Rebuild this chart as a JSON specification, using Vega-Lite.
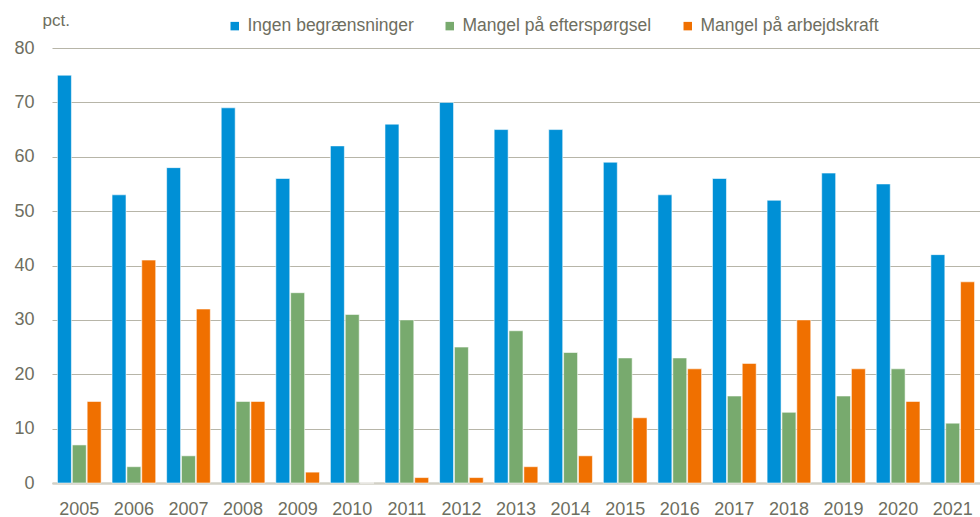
{
  "$schema": "https://vega.github.io/schema/vega-lite/v6.json",
  "width": 928,
  "height": 435,
  "autosize": {"type": "none"},
  "padding": {"left": 52, "top": 48, "right": 0, "bottom": 34},
  "background": "white",
  "config": {
    "view": {"stroke": null},
    "font": "Liberation Sans",
    "axis": {"labelFont": "Liberation Sans", "titleFont": "Liberation Sans"},
    "legend": {"labelFont": "Liberation Sans"}
  },
  "data": {
    "values": [
      {"year": "2005", "serie": "Ingen begrænsninger", "value": 75},
      {"year": "2005", "serie": "Mangel på efterspørgsel", "value": 7},
      {"year": "2005", "serie": "Mangel på arbejdskraft", "value": 15},
      {"year": "2006", "serie": "Ingen begrænsninger", "value": 53},
      {"year": "2006", "serie": "Mangel på efterspørgsel", "value": 3},
      {"year": "2006", "serie": "Mangel på arbejdskraft", "value": 41},
      {"year": "2007", "serie": "Ingen begrænsninger", "value": 58},
      {"year": "2007", "serie": "Mangel på efterspørgsel", "value": 5},
      {"year": "2007", "serie": "Mangel på arbejdskraft", "value": 32},
      {"year": "2008", "serie": "Ingen begrænsninger", "value": 69},
      {"year": "2008", "serie": "Mangel på efterspørgsel", "value": 15},
      {"year": "2008", "serie": "Mangel på arbejdskraft", "value": 15},
      {"year": "2009", "serie": "Ingen begrænsninger", "value": 56},
      {"year": "2009", "serie": "Mangel på efterspørgsel", "value": 35},
      {"year": "2009", "serie": "Mangel på arbejdskraft", "value": 2},
      {"year": "2010", "serie": "Ingen begrænsninger", "value": 62},
      {"year": "2010", "serie": "Mangel på efterspørgsel", "value": 31},
      {"year": "2010", "serie": "Mangel på arbejdskraft", "value": 0},
      {"year": "2011", "serie": "Ingen begrænsninger", "value": 66},
      {"year": "2011", "serie": "Mangel på efterspørgsel", "value": 30},
      {"year": "2011", "serie": "Mangel på arbejdskraft", "value": 1},
      {"year": "2012", "serie": "Ingen begrænsninger", "value": 70},
      {"year": "2012", "serie": "Mangel på efterspørgsel", "value": 25},
      {"year": "2012", "serie": "Mangel på arbejdskraft", "value": 1},
      {"year": "2013", "serie": "Ingen begrænsninger", "value": 65},
      {"year": "2013", "serie": "Mangel på efterspørgsel", "value": 28},
      {"year": "2013", "serie": "Mangel på arbejdskraft", "value": 3},
      {"year": "2014", "serie": "Ingen begrænsninger", "value": 65},
      {"year": "2014", "serie": "Mangel på efterspørgsel", "value": 24},
      {"year": "2014", "serie": "Mangel på arbejdskraft", "value": 5},
      {"year": "2015", "serie": "Ingen begrænsninger", "value": 59},
      {"year": "2015", "serie": "Mangel på efterspørgsel", "value": 23},
      {"year": "2015", "serie": "Mangel på arbejdskraft", "value": 12},
      {"year": "2016", "serie": "Ingen begrænsninger", "value": 53},
      {"year": "2016", "serie": "Mangel på efterspørgsel", "value": 23},
      {"year": "2016", "serie": "Mangel på arbejdskraft", "value": 21},
      {"year": "2017", "serie": "Ingen begrænsninger", "value": 56},
      {"year": "2017", "serie": "Mangel på efterspørgsel", "value": 16},
      {"year": "2017", "serie": "Mangel på arbejdskraft", "value": 22},
      {"year": "2018", "serie": "Ingen begrænsninger", "value": 52},
      {"year": "2018", "serie": "Mangel på efterspørgsel", "value": 13},
      {"year": "2018", "serie": "Mangel på arbejdskraft", "value": 30},
      {"year": "2019", "serie": "Ingen begrænsninger", "value": 57},
      {"year": "2019", "serie": "Mangel på efterspørgsel", "value": 16},
      {"year": "2019", "serie": "Mangel på arbejdskraft", "value": 21},
      {"year": "2020", "serie": "Ingen begrænsninger", "value": 55},
      {"year": "2020", "serie": "Mangel på efterspørgsel", "value": 21},
      {"year": "2020", "serie": "Mangel på arbejdskraft", "value": 15},
      {"year": "2021", "serie": "Ingen begrænsninger", "value": 42},
      {"year": "2021", "serie": "Mangel på efterspørgsel", "value": 11},
      {"year": "2021", "serie": "Mangel på arbejdskraft", "value": 37}
    ]
  },
  "mark": {"type": "bar", "stroke": "white", "strokeWidth": 0.8, "strokeOpacity": 0.7},
  "encoding": {
    "x": {
      "field": "year",
      "type": "nominal",
      "scale": {"paddingInner": 0.2, "paddingOuter": 0.1},
      "axis": {
        "title": null,
        "labelAngle": 0,
        "labelFontSize": 18,
        "labelColor": "#6e6e60",
        "labelPadding": 17,
        "ticks": false,
        "domainColor": "#d2d0c6",
        "domainWidth": 2.5,
        "grid": false
      }
    },
    "xOffset": {
      "field": "serie",
      "type": "nominal",
      "sort": ["Ingen begrænsninger", "Mangel på efterspørgsel", "Mangel på arbejdskraft"],
      "scale": {"paddingInner": 0.06}
    },
    "y": {
      "field": "value",
      "type": "quantitative",
      "scale": {"domain": [0, 80], "nice": false},
      "axis": {
        "values": [0, 10, 20, 30, 40, 50, 60, 70, 80],
        "title": "pct.",
        "titleAngle": 0,
        "titleX": -10,
        "titleY": -28,
        "titleAlign": "left",
        "titleBaseline": "middle",
        "titleFontSize": 17,
        "titleFontWeight": "normal",
        "titleColor": "#6e6e60",
        "labelFontSize": 18,
        "labelColor": "#6e6e60",
        "labelPadding": 18,
        "ticks": false,
        "domain": false,
        "gridColor": "#b7b5a8",
        "gridWidth": 1
      }
    },
    "color": {
      "field": "serie",
      "type": "nominal",
      "sort": ["Ingen begrænsninger", "Mangel på efterspørgsel", "Mangel på arbejdskraft"],
      "scale": {
        "domain": ["Ingen begrænsninger", "Mangel på efterspørgsel", "Mangel på arbejdskraft"],
        "range": ["#0090d6", "#78aa6e", "#f07000"]
      },
      "legend": {
        "title": null,
        "orient": "none",
        "direction": "horizontal",
        "legendX": 174,
        "legendY": -31,
        "symbolType": "square",
        "symbolSize": 72,
        "symbolStrokeWidth": 0,
        "labelFontSize": 17.5,
        "labelLimit": 400,
        "labelColor": "#6e6e60",
        "labelOffset": 4,
        "columnPadding": 27
      }
    }
  }
}
